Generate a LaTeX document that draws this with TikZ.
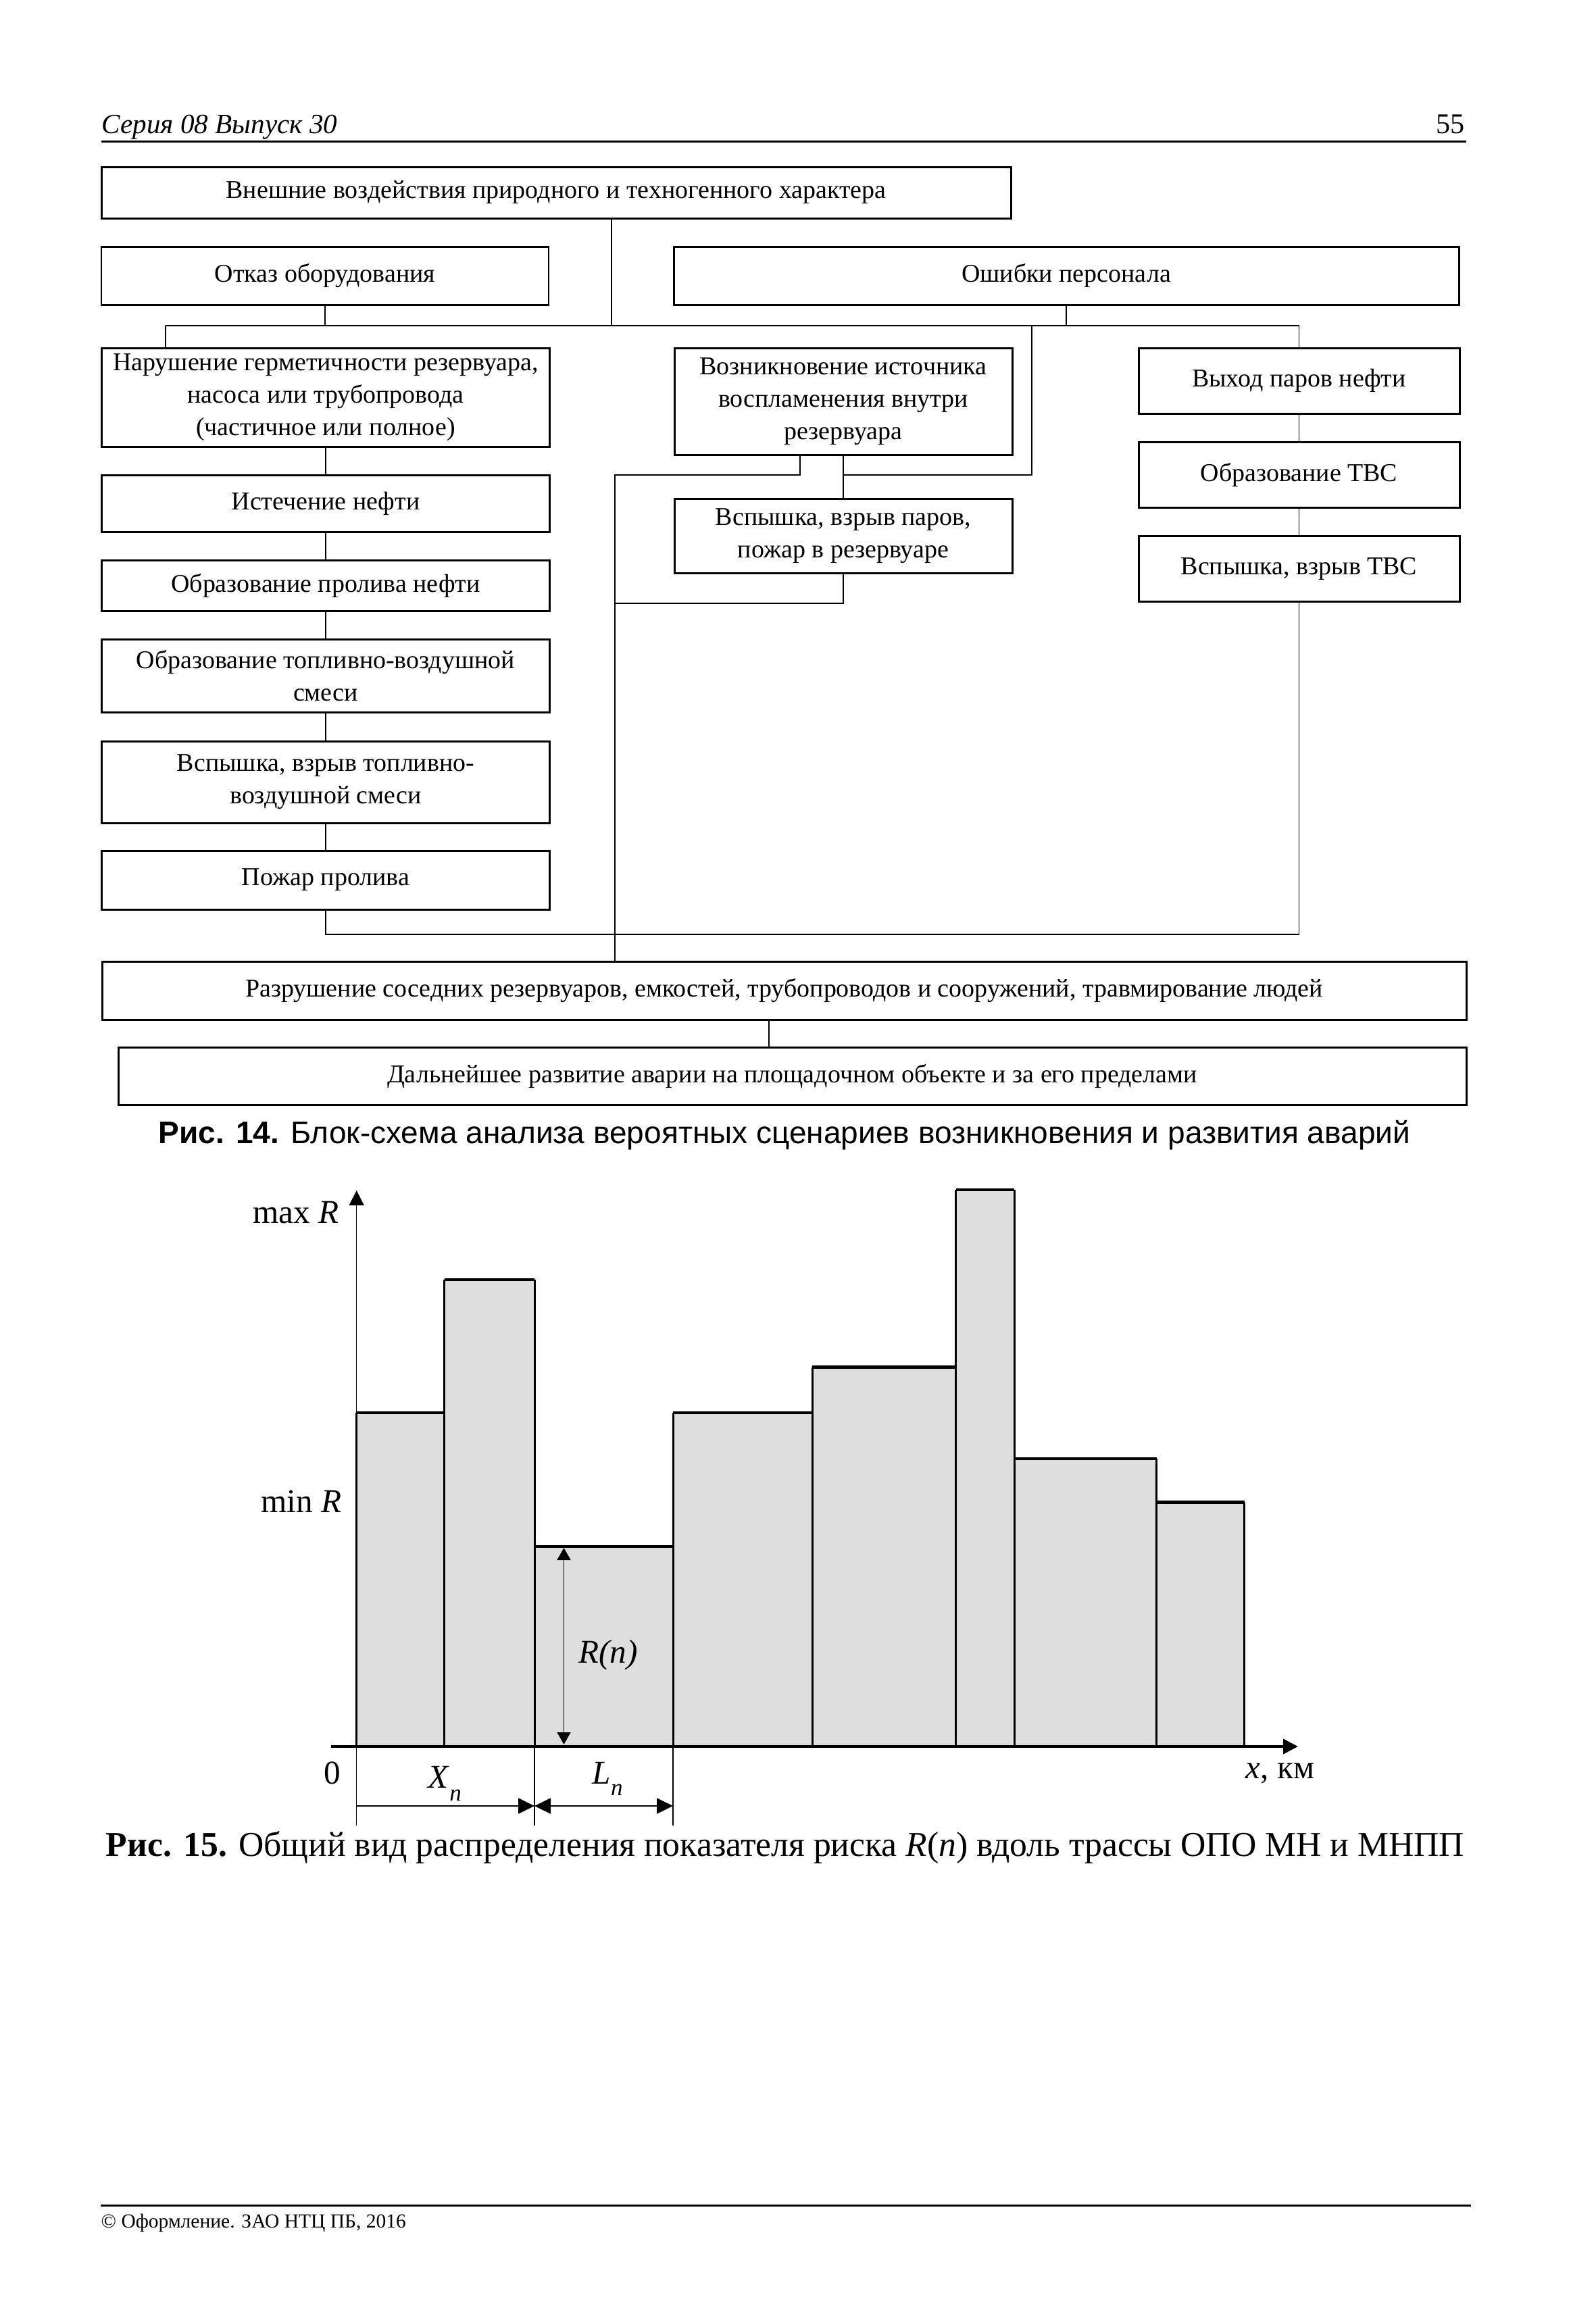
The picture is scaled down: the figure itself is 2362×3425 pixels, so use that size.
\documentclass[tikz,border=0pt]{standalone}
\usepackage{fontspec}
\setmainfont{Liberation Serif}
\newfontfamily\capsans{Liberation Sans}
\usetikzlibrary{arrows.meta}

\newcommand{\boxfont}{\fontsize{10.8}{13.6}\selectfont}
\newcommand{\labfont}{\fontsize{14}{16}\selectfont}
\newcommand{\subn}[1]{\raisebox{#1}{\fontsize{10}{12}\selectfont\textit{n}}}

\tikzset{
  blk/.style={draw, line width=0.85pt, align=center, inner sep=0pt, font=\boxfont},
  link/.style={line width=0.5pt},
  bartop/.style={line width=1.4pt},
  barside/.style={line width=0.85pt},
  axtip/.style={-{Triangle[length=2.2mm,width=2.2mm]}},
  dimtip/.style={-{Triangle[length=2.4mm,width=2.3mm]}},
  dimboth/.style={{Triangle[length=2.4mm,width=2.3mm]}-{Triangle[length=2.4mm,width=2.3mm]}},
  rtip/.style={{Triangle[length=1.8mm,width=2mm]}-{Triangle[length=1.8mm,width=2mm]}},
}

\begin{document}
\begin{tikzpicture}[x=0.1mm, y=-0.1mm]
    \useasboundingbox (0,0) rectangle (2362,3425);
    \fill[white] (0,0) rectangle (2362,3425);

    % page head
    \node[anchor=base west, inner sep=0pt, font=\fontsize{11.7}{14}\selectfont\itshape] (head) at (150,197) {Серия 08 Выпуск 30};
    \node[anchor=base east, inner sep=0pt, font=\fontsize{12}{14}\selectfont] (page) at (2168,197) {55};
    \draw[line width=0.85pt] (150,209) -- (2170,209);

    % fig. 14
    \node[blk, minimum width=134.6mm, minimum height=7.6mm] (ext) at (823,285) {Внешние воздействия природного и техногенного характера};
    \node[blk, minimum width=66.2mm, minimum height=8.6mm] (fail) at (481,408) {Отказ оборудования};
    \node[blk, minimum width=116.2mm, minimum height=8.6mm] (staff) at (1578,408) {Ошибки персонала};

    \node[blk, minimum width=66.3mm, minimum height=14.6mm] (leak) at (482,588) {Нарушение герметичности резервуара,\\ насоса или трубопровода\\ (частичное или полное)};
    \node[blk, minimum width=66.3mm, minimum height=8.4mm] (outflow) at (482,745) {Истечение нефти};
    \node[blk, minimum width=66.3mm, minimum height=7.5mm] (spill) at (482,866.5) {Образование пролива нефти};
    \node[blk, minimum width=66.3mm, minimum height=10.8mm] (mix) at (482,1000) {Образование топливно-воздушной\\ смеси};
    \node[blk, minimum width=66.3mm, minimum height=12.1mm] (blast) at (482,1157.5) {Вспышка, взрыв топливно-\\ воздушной смеси};
    \node[blk, minimum width=66.3mm, minimum height=8.7mm] (fire) at (482,1302.5) {Пожар пролива};

    \node[blk, minimum width=50mm, minimum height=15.8mm] (ignit) at (1248,594) {Возникновение источника\\ воспламенения внутри\\ резервуара};
    \node[blk, minimum width=50mm, minimum height=11mm] (tankfire) at (1248,793) {Вспышка, взрыв паров,\\ пожар в резервуаре};

    \node[blk, minimum width=47.5mm, minimum height=9.7mm] (vapour) at (1922.5,563.5) {Выход паров нефти};
    \node[blk, minimum width=47.5mm, minimum height=9.7mm] (tvs) at (1922.5,702.5) {Образование ТВС};
    \node[blk, minimum width=47.5mm, minimum height=9.7mm] (tvsblast) at (1922.5,841.5) {Вспышка, взрыв ТВС};

    \node[blk, minimum width=201.9mm, minimum height=8.6mm] (ruin) at (1160.5,1466) {Разрушение соседних резервуаров, емкостей, трубопроводов и сооружений, травмирование людей};
    \node[blk, minimum width=199.5mm, minimum height=8.5mm] (further) at (1172.5,1592.5) {Дальнейшее развитие аварии на площадочном объекте и за его пределами};

    \coordinate (bus) at (905,482);
    \coordinate (busL) at (245,482);
    \coordinate (busM) at (1527,482);
    \coordinate (busR) at (1922.5,482);
    \coordinate (kneeM) at (1248,703);
    \coordinate (tapI) at (1184,0);
    \coordinate (colL) at (910,703);
    \coordinate (kneeT) at (910,893);
    \coordinate (kneeF) at (1922.5,1383);
    \coordinate (tapR) at (1138,0);

    \draw[link] (ext.south -| bus) -- (bus);
    \draw[link] (fail.south) -- (fail.south |- bus);
    \draw[link] (staff.south) -- (staff.south |- bus);
    \draw[link] (busL) -- (busR);
    \draw[link] (busL) -- (busL |- leak.north);
    \draw[link] (busR) -- (vapour.north);
    \draw[link] (busM) |- (kneeM);
    \draw[link] (ignit) -- (tankfire);
    \foreach \a/\b in {leak/outflow, outflow/spill, spill/mix, mix/blast, blast/fire, vapour/tvs, tvs/tvsblast}
        \draw[link] (\a) -- (\b);
    \draw[link] (ignit.south -| tapI) |- (colL) -- (colL |- ruin.north);
    \draw[link] (tankfire.south) |- (kneeT);
    \draw[link] (fire.south) |- (kneeF) -- (tvsblast.south);
    \draw[link] (ruin.south -| tapR) -- (further.north -| tapR);

    \node[anchor=base, font=\capsans\fontsize{13.1}{15}\selectfont] (cap14) at (1161,1692) {\textbf{Рис. 14.} Блок-схема анализа вероятных сценариев возникновения и развития аварий};

    % fig. 15: risk along the route
    \foreach \xa/\xb/\yt in {527.7/657.8/2091, 657.8/791/1894, 791/996/2289, 996/1202/2091,
        1202/1414.5/2023.5, 1414.5/1501/1761, 1501/1711.5/2159, 1711.5/1841.6/2223.5} {
        \fill[black!13] (\xa,2585) rectangle (\xb,\yt);
        \draw[barside] (\xa,2585) -- (\xa,\yt) (\xb,2585) -- (\xb,\yt);
        \draw[bartop] (\xa,\yt) -- (\xb,\yt);
    }

    \draw[line width=0.45pt, axtip] (527.7,2702) -- (527.7,1762);
    \draw[line width=1.1pt, axtip] (490,2585) -- (1921,2585);
    \draw[line width=0.6pt] (791,2585) -- (791,2702) (996,2585) -- (996,2702);
    \draw[line width=0.6pt, dimtip] (527.7,2673) -- (791,2673);
    \draw[line width=0.6pt, dimboth] (791,2673) -- (996,2673);
    \draw[line width=0.45pt, rtip] (834.5,2582) -- (834.5,2291);

    \node[anchor=base east, inner sep=0pt, font=\labfont] (maxR) at (502,1810) {max \textit{R}};
    \node[anchor=base east, inner sep=0pt, font=\labfont] (minR) at (506,2238) {min \textit{R}};
    \node[inner sep=0pt, font=\labfont] (zero) at (492,2624) {0};
    \node[anchor=base west, inner sep=0pt, font=\labfont] (Xn) at (633,2646) {\textit{X}\subn{-5.5pt}};
    \node[anchor=base west, inner sep=0pt, font=\labfont] (Ln) at (876,2640) {\textit{L}\subn{-5pt}};
    \node[inner sep=0pt, font=\labfont\itshape] (Rn) at (900,2450) {R(n)};
    \node[anchor=base west, inner sep=0pt, font=\labfont] (xkm) at (1843,2632) {\textit{x}, км};

    \node[anchor=base, font=\fontsize{14.7}{18}\selectfont] (cap15) at (1162,2747) {\textbf{Рис. 15.} Общий вид распределения показателя риска \textit{R}(\textit{n}) вдоль трассы ОПО МН и МНПП};

    % page foot
    \draw[line width=0.85pt] (149,3264) -- (2177,3264);
    \node[anchor=base west, inner sep=0pt, font=\fontsize{8.4}{10}\selectfont] (foot) at (149,3297) {© Оформление. ЗАО НТЦ ПБ, 2016};
\end{tikzpicture}
\end{document}
